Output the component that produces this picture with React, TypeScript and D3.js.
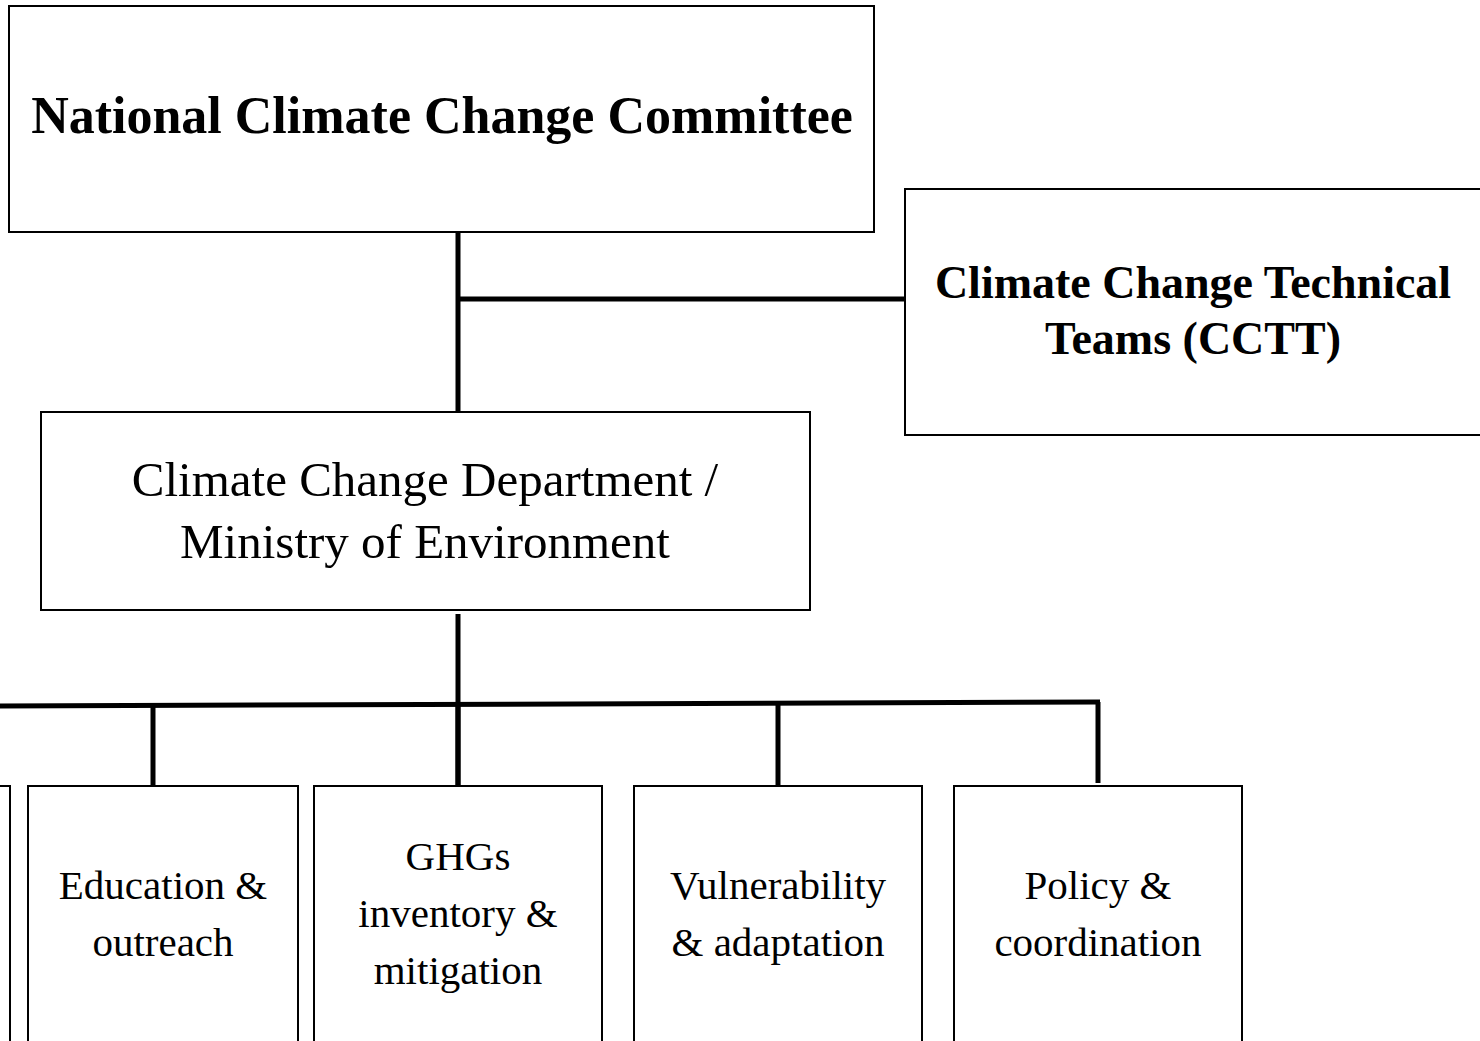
import React from 'react';
import * as d3 from 'd3';

const topLabel = ['National Climate Change Committee'];
const sideLabel = ['Climate Change Technical', 'Teams (CCTT)'];
const deptLabel = ['Climate Change Department /', 'Ministry of Environment'];
const unitLabels = [
  [''],
  ['Education &', 'outreach'],
  ['GHGs', 'inventory &', 'mitigation'],
  ['Vulnerability', '& adaptation'],
  ['Policy &', 'coordination'],
];

// layout (pixels)
const TOP = { x: 9, y: 6, w: 865, h: 226 };
const SIDE = { x: 905, y: 189, w: 600, h: 246 };
const DEPT = { x: 41, y: 412, w: 769, h: 198 };
const UNIT_X = [-260, 28, 314, 634, 954];
const UNIT_W = [270, 270, 288, 288, 288];
const UNIT_Y = 786;
const DROP_X = [null, 153, 458, 778, 1098];
const SPINE_X = 458;
const BUS_Y = [706, 702];

const FONT = '"Liberation Serif", "Times New Roman", serif';

function Lines({ lines, cx, y0, size, gap, bold }: { lines: string[]; cx: number; y0: number; size: number; gap: number; bold?: boolean }) {
  return (
    <text x={cx} fontFamily={FONT} fontSize={size} fontWeight={bold ? 'bold' : 'normal'} textAnchor="middle" fill="#000">
      {lines.map((l, i) => (
        <tspan key={i} x={cx} y={y0 + i * gap}>{l}</tspan>
      ))}
    </text>
  );
}

export default function App() {
  const width = 1480;
  const height = 1041;
  const line = d3.line<[number, number]>();
  const busX = d3.scaleLinear().domain([0, 1098]).range(BUS_Y);

  return (
    <svg width={width} height={height} style={{ position: 'absolute', left: 0, top: 0, background: '#fff' }}>
      <rect x={0} y={0} width={width} height={height} fill="#fff" />
      {/* connectors */}
      <g stroke="#000" strokeWidth={5} fill="none">
        <path d={line([[SPINE_X, TOP.y + TOP.h], [SPINE_X, DEPT.y]]) ?? ''} />
        <path d={line([[SPINE_X, 299], [SIDE.x, 299]]) ?? ''} />
        <path d={line([[SPINE_X, DEPT.y + DEPT.h + 4], [SPINE_X, UNIT_Y]]) ?? ''} />
        <path d={line([[0, busX(0)], [1100, busX(1100)]]) ?? ''} />
        {DROP_X.map((x, i) =>
          x === null ? null : (
            <path key={i} d={line([[x, busX(x)], [x, i === 4 ? UNIT_Y - 3 : UNIT_Y]]) ?? ''} />
          )
        )}
      </g>
      {/* boxes */}
      <g stroke="#000" strokeWidth={2} fill="#fff">
        <rect x={TOP.x} y={TOP.y} width={TOP.w} height={TOP.h} />
        <rect x={SIDE.x} y={SIDE.y} width={SIDE.w} height={SIDE.h} />
        <rect x={DEPT.x} y={DEPT.y} width={DEPT.w} height={DEPT.h} />
        {UNIT_X.map((x, i) => (
          <rect key={i} x={x} y={UNIT_Y} width={UNIT_W[i]} height={320} />
        ))}
      </g>
      {/* labels */}
      <Lines lines={topLabel} cx={442} y0={133} size={52} gap={0} bold />
      <Lines lines={sideLabel} cx={1193} y0={298} size={46} gap={56} bold />
      <Lines lines={deptLabel} cx={425} y0={496} size={49} gap={62} />
      {unitLabels.map((lines, i) => {
        const cx = UNIT_X[i] + UNIT_W[i] / 2;
        const y0 = lines.length === 3 ? 870 : 899;
        return <Lines key={i} lines={lines} cx={cx} y0={y0} size={41} gap={57} />;
      })}
    </svg>
  );
}
